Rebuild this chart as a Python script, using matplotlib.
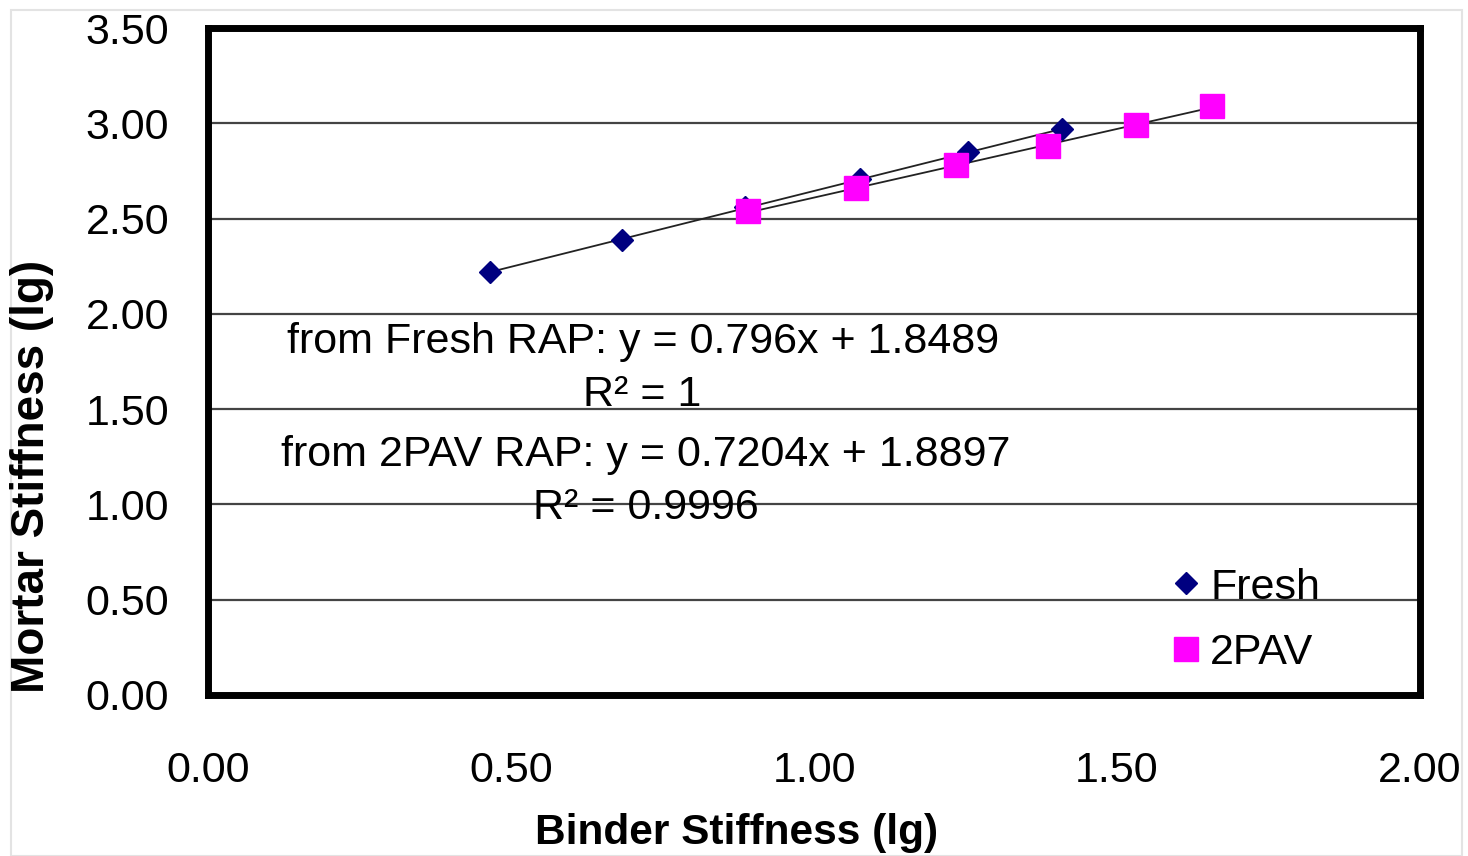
#!/usr/bin/env python3
"""Mortar vs binder stiffness (log) with linear trendlines for Fresh and 2PAV RAP."""

import matplotlib

matplotlib.use("Agg")
import matplotlib.pyplot as plt
import numpy as np
from matplotlib.patches import Rectangle

# data
fresh_x = [0.465, 0.683, 0.886, 1.076, 1.254, 1.409]
fresh_y = [2.22, 2.39, 2.56, 2.71, 2.85, 2.97]
pav_x = [0.891, 1.069, 1.234, 1.386, 1.531, 1.657]
pav_y = [2.54, 2.66, 2.78, 2.88, 2.99, 3.09]

fresh_fit = (0.796, 1.8489)
pav_fit = (0.7204, 1.8897)

x_ticks = [0.0, 0.5, 1.0, 1.5, 2.0]
y_ticks = [0.0, 0.5, 1.0, 1.5, 2.0, 2.5, 3.0, 3.5]

plt.rcParams["font.family"] = ["Liberation Sans", "DejaVu Sans"]

W, H = 1468, 856
fig = plt.figure(figsize=(W / 100, H / 100), dpi=100)
fig.patch.set_facecolor("white")
fig.patches.append(
    Rectangle((11 / W, 0), (1462 - 11) / W, 1 - 10 / H, transform=fig.transFigure,
              fill=False, edgecolor="#e3e3e3", linewidth=1.5)
)

ax = fig.add_axes([208 / W, 1 - 695 / H, (1420 - 208) / W, (695 - 28) / H])
ax.set_xlim(0, 2)
ax.set_ylim(0, 3.5)

for y in y_ticks[1:-1]:
    ax.axhline(y, color="#444444", linewidth=1.6, zorder=1)

# trendlines over each series' range
for xs, (m, b) in ((fresh_x, fresh_fit), (pav_x, pav_fit)):
    xx = np.array([min(xs), max(xs)])
    ax.plot(xx, m * xx + b, color="#222222", linewidth=1.3, zorder=2)

ax.plot(fresh_x, fresh_y, linestyle="none", marker="D", markersize=11.5,
        color="#000080", label="Fresh", zorder=3)
ax.plot(pav_x, pav_y, linestyle="none", marker="s", markersize=17,
        color="#ff00ff", label="2PAV", zorder=4)

ax.set_xticks(x_ticks)
ax.set_yticks(y_ticks)
ax.set_xticklabels([f"{v:.2f}" for v in x_ticks])
ax.set_yticklabels([f"{v:.2f}" for v in y_ticks])
ax.tick_params(axis="both", length=0, labelsize=31)
ax.tick_params(axis="x", pad=40)
ax.tick_params(axis="y", pad=28)
for s in ax.spines.values():
    s.set_linewidth(5)
    s.set_color("black")

eq_kw = dict(ha="center", va="center", fontsize=31, transform=ax.transData, zorder=5)
ax.text(0.718, 1.85, "from Fresh RAP: y = 0.796x + 1.8489", **eq_kw)
ax.text(0.716, 1.573, "R² = 1", **eq_kw)
ax.text(0.722, 1.26, "from 2PAV RAP: y = 0.7204x + 1.8897", **eq_kw)
ax.text(0.722, 0.98, "R² = 0.9996", **eq_kw)

ax.legend(loc="upper left", bbox_to_anchor=(1152 / W, 1 - 546 / H),
          bbox_transform=fig.transFigure, frameon=False, fontsize=31,
          handlelength=0.6, handletextpad=0.25, labelspacing=0.6, borderpad=0)

fig.text(737 / W, 1 - 833 / H, "Binder Stiffness (lg)", ha="center", va="center",
         fontsize=30.5, fontweight="bold")
fig.text(32 / W, 1 - 476 / H, "Mortar Stiffness (lg)", ha="center", va="center",
         rotation=90, fontsize=33, fontweight="bold")

fig.savefig("out.png", dpi=100, facecolor="white")
